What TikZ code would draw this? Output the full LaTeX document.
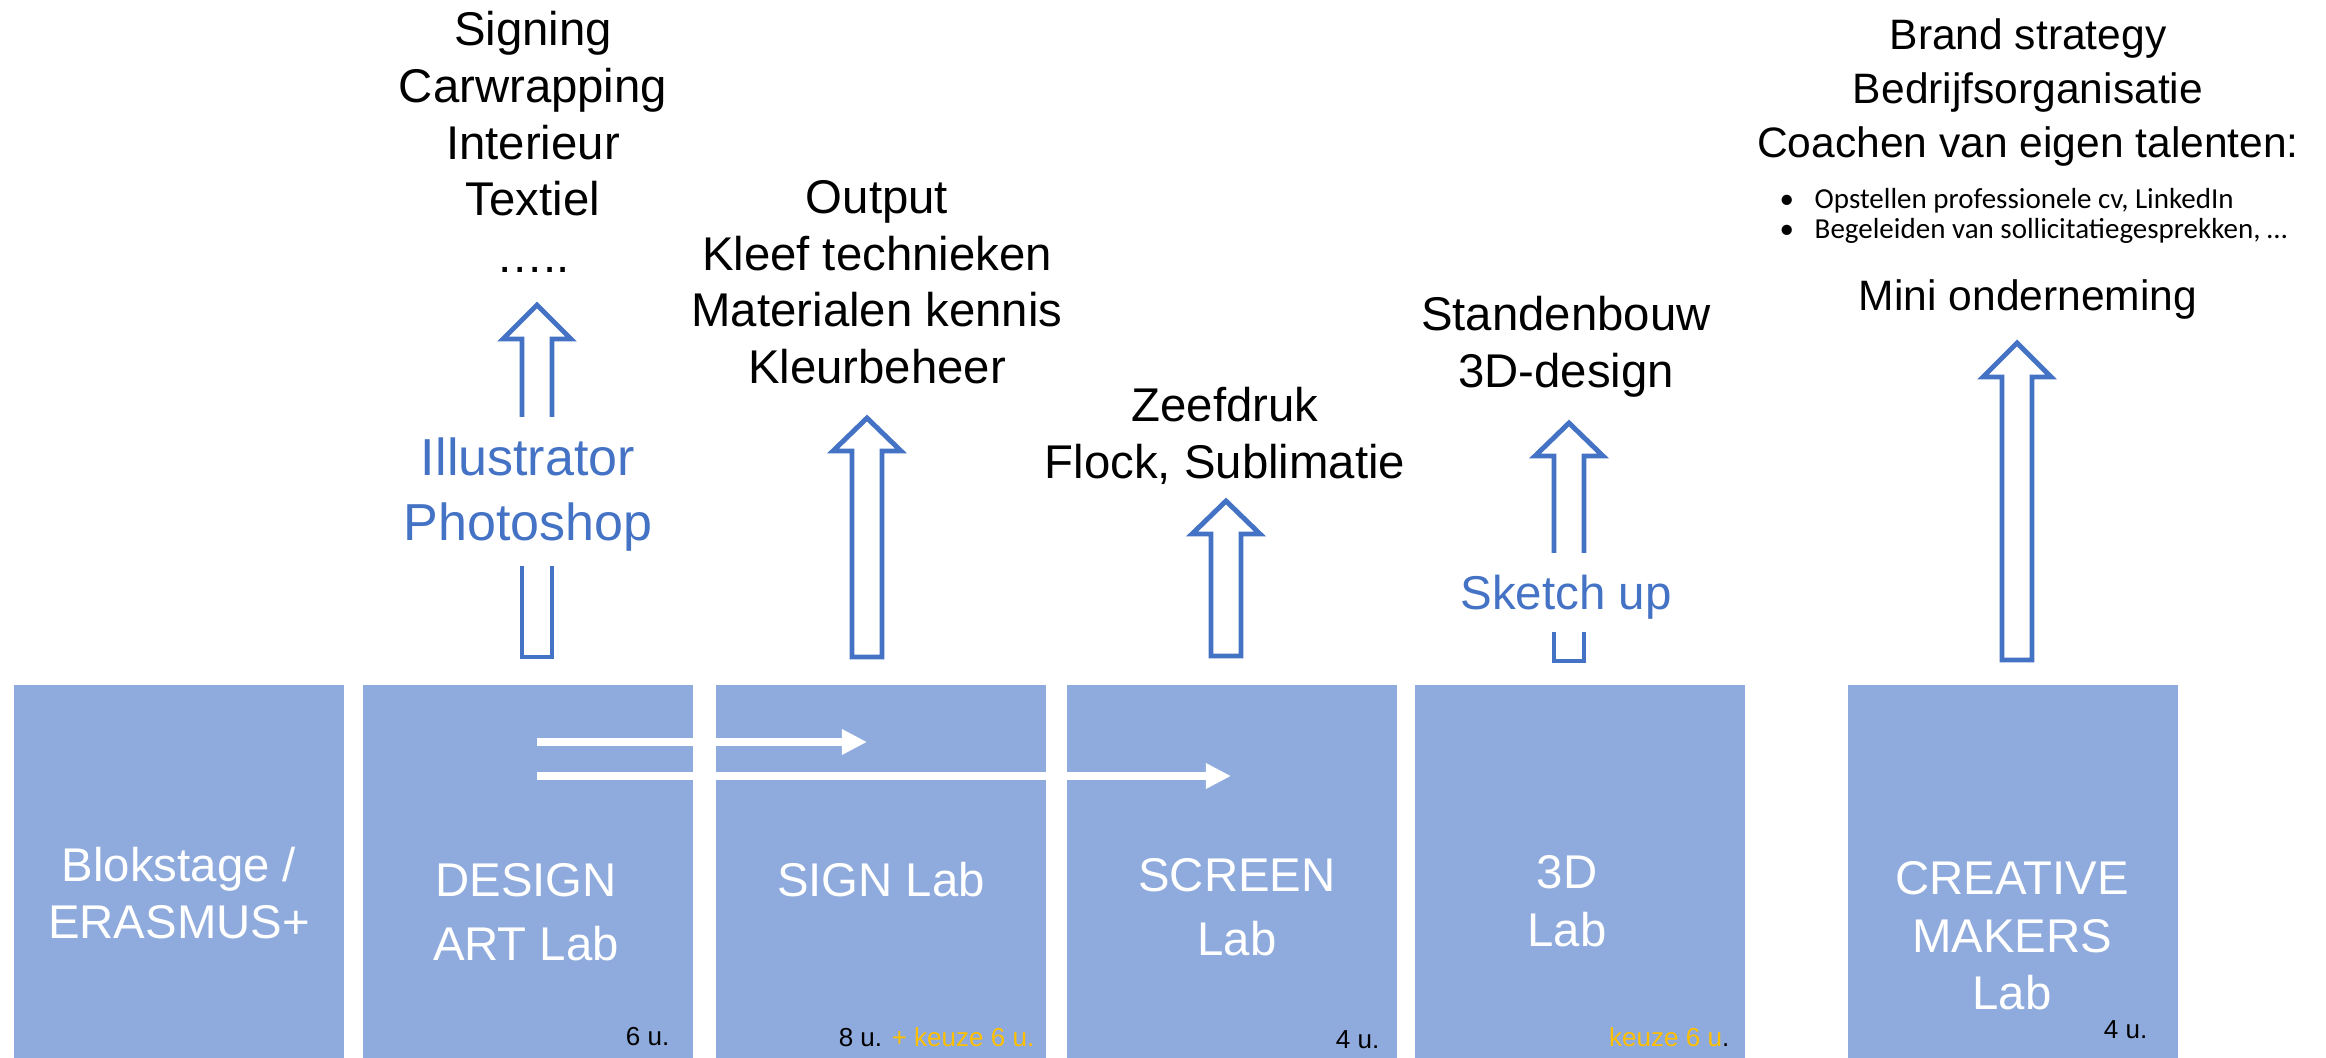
\documentclass[tikz,border=0pt]{standalone}
\usepackage{fontspec}
\setmainfont{Liberation Sans}
\newfontfamily\bulletfont{Carlito}
\usetikzlibrary{arrows.meta}
\definecolor{labblue}{HTML}{8FAADC}
\definecolor{toolblue}{HTML}{4472C4}
\definecolor{keuzeorange}{HTML}{FFC000}
\tikzset{
	lab/.style={fill=labblue, draw=none, minimum width=3.3cm, minimum height=3.73cm, inner sep=0pt},
	labtext/.style={white, align=center, inner sep=0pt, font=\fontsize{13.46}{16.36}\selectfont},
	outtext/.style={black, align=center, inner sep=0pt, anchor=north, font=\fontsize{13.46}{16.07}\selectfont},
	tooltext/.style={toolblue, align=center, inner sep=0pt},
	hours/.style={black, anchor=east, inner sep=0pt, font=\fontsize{7.4}{8}\selectfont},
	bullettext/.style={black, anchor=west, inner sep=0pt, font=\bulletfont\fontsize{8.25}{8.5}\selectfont},
	bigarrow/.style={draw=toolblue, line width=1.4pt, line join=miter, line cap=butt},
	flowarrow/.style={white, line width=2.3pt, -{Triangle[length=0.25cm, width=0.24cm]}}
}
\begin{document}
\begin{tikzpicture}[x=0.01cm, y=-0.01cm]
		\useasboundingbox (0,0) rectangle (2326,1058);
		
		\node[lab] (blok) at (179,871.5) {};
		\node[lab] (design) at (528,871.5) {};
		\node[lab] (sign) at (881,871.5) {};
		\node[lab] (screen) at (1232,871.5) {};
		\node[lab] (td) at (1580,871.5) {};
		\node[lab] (makers) at (2013,871.5) {};
		
		\node[labtext] (blokname) at (179,893) {Blokstage /\\ERASMUS+};
		\node[labtext] (designname) at (526,912) {DESIGN\\[1.85pt]ART Lab};
		\node[labtext] (signname) at (881,880) {SIGN Lab};
		\node[labtext] (screenname) at (1237,907) {SCREEN\\[1.85pt]Lab};
		\node[labtext] (tdname) at (1567,901) {3D\\Lab};
		\node[labtext] (makersname) at (2012,936) {CREATIVE\\MAKERS\\Lab};
		
		\node[hours] (designuren) at (670,1037) {6 u.};
		\node[hours] (signuren) at (1035,1037) {8 u. \textcolor{keuzeorange}{+ keuze 6 u.}};
		\node[hours] (screenuren) at (1380,1040) {4 u.};
		\node[hours] (tduren) at (1730,1037) {\textcolor{keuzeorange}{keuze 6 u}.};
		\node[hours] (makersuren) at (2148,1030) {4 u.};
		
		\coordinate (signstart) at (537,742);
		\coordinate (signend) at (867,742);
		\coordinate (screenstart) at (537,776);
		\coordinate (screenend) at (1231,776);
		\draw [flowarrow] (signstart) -- (signend);
		\draw [flowarrow] (screenstart) -- (screenend);
		
		\draw [bigarrow] (522,417) -- (522,339) -- (503,339) -- (537,305) -- (571,339) -- (552,339) -- (552,417);
		\draw [bigarrow] (522,566) -- (522,657) -- (552,657) -- (552,566);
		\node[tooltext, font=\fontsize{14.8}{18.5}\selectfont] (designtools) at (528,495) {Illustrator\\Photoshop};
		\node[outtext] (designout) at (533,11) {Signing\\Carwrapping\\Interieur\\Textiel\\…..};
		
		\draw [bigarrow] (852,657) -- (852,451) -- (833,451) -- (867,418) -- (901,451) -- (882,451) -- (882,657) -- cycle;
		\node[outtext] (signout) at (877,180) {Output\\Kleef technieken\\Materialen kennis\\Kleurbeheer};
		
		\draw [bigarrow] (1211,656) -- (1211,534) -- (1192,534) -- (1226,501) -- (1260,534) -- (1241,534) -- (1241,656) -- cycle;
		\node[outtext] (screenout) at (1225,387) {Zeefdruk\\Flock, Sublimatie};
		
		\draw [bigarrow] (1554,553) -- (1554,456) -- (1535,456) -- (1569,423) -- (1603,456) -- (1584,456) -- (1584,553);
		\draw [bigarrow] (1554,632) -- (1554,661) -- (1584,661) -- (1584,632);
		\node[tooltext, font=\fontsize{13.5}{16}\selectfont] (tdtools) at (1566,597) {Sketch up};
		\node[outtext] (tdout) at (1566,296) {Standenbouw\\3D-design};
		
		\draw [bigarrow] (2002,660) -- (2002,377) -- (1983,377) -- (2017,343) -- (2051,377) -- (2032,377) -- (2032,660) -- cycle;
		\node[outtext, font=\fontsize{12.1}{15.36}\selectfont] (makersout) at (2028,18) {Brand strategy\\Bedrijfsorganisatie\\Coachen van eigen talenten:};
		\node[bullettext] (cvitem) at (1779,201) {\makebox[0.35cm][l]{•}Opstellen professionele cv, LinkedIn};
		\node[bullettext] (jobitem) at (1779,231) {\makebox[0.35cm][l]{•}Begeleiden van sollicitatiegesprekken, …};
		\node[black, inner sep=0pt, font=\fontsize{12.1}{15}\selectfont] (mini) at (2028,300) {Mini onderneming};
		
\end{tikzpicture}
\end{document}
